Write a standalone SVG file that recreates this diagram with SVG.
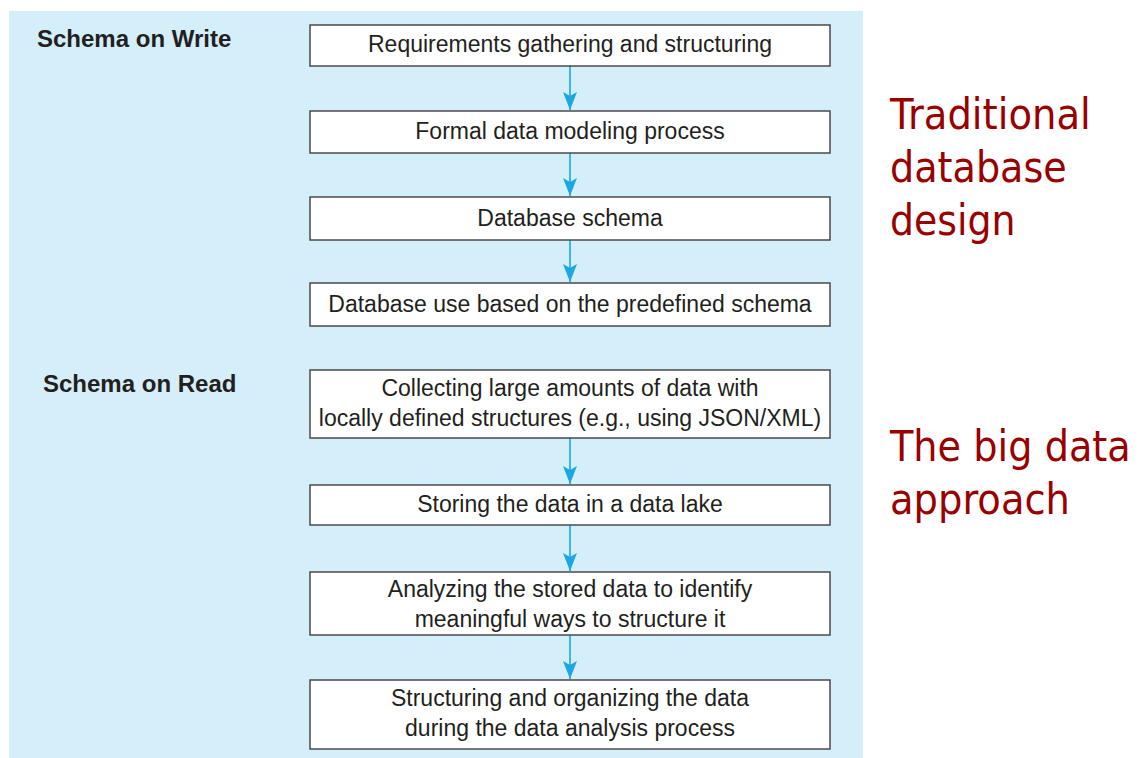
<svg xmlns="http://www.w3.org/2000/svg" width="1145" height="758" viewBox="0 0 1145 758">
<defs>
<style>
.box{fill:#fff;stroke:#4a4a4a;stroke-width:1.5}
.t{font-family:"Liberation Sans",Arial,sans-serif;font-size:23px;fill:#231f20;text-anchor:middle}
.h{font-family:"Liberation Sans",Arial,sans-serif;font-size:24px;font-weight:bold;fill:#231f20}
.r{font-family:"DejaVu Sans",Verdana,sans-serif;font-size:43px;fill:#990000}
.c{stroke:#1aa7e4;stroke-width:1.6;fill:none}
</style>
<marker id="ah" markerWidth="18" markerHeight="14" refX="18" refY="7" orient="auto" markerUnits="userSpaceOnUse" viewBox="0 0 18 14">
<path d="M0,0 L4,7 L0,14 L18,7 Z" fill="#1aa7e4"/>
</marker>
</defs>
<rect x="9" y="11" width="854" height="747" fill="#d4eefa"/>
<text class="h" x="37" y="47">Schema on Write</text>
<text class="h" x="43" y="392">Schema on Read</text>
<g id="connectors">
<path class="c" d="M570,66 V110" marker-end="url(#ah)"/>
<path class="c" d="M570,153 V196" marker-end="url(#ah)"/>
<path class="c" d="M570,240 V282" marker-end="url(#ah)"/>
<path class="c" d="M570,438 V484" marker-end="url(#ah)"/>
<path class="c" d="M570,525 V571" marker-end="url(#ah)"/>
<path class="c" d="M570,635 V679" marker-end="url(#ah)"/>
</g>
<g id="n1"><rect class="box" x="310" y="25" width="520" height="41"/><text class="t" x="570" y="52">Requirements gathering and structuring</text></g>
<g id="n2"><rect class="box" x="310" y="111" width="520" height="42"/><text class="t" x="570" y="139">Formal data modeling process</text></g>
<g id="n3"><rect class="box" x="310" y="197" width="520" height="43"/><text class="t" x="570" y="226">Database schema</text></g>
<g id="n4"><rect class="box" x="310" y="283" width="520" height="43"/><text class="t" x="570" y="312">Database use based on the predefined schema</text></g>
<g id="n5"><rect class="box" x="310" y="370" width="520" height="68"/><text class="t" x="570" y="396">Collecting large amounts of data with</text><text class="t" x="570" y="426">locally defined structures (e.g., using JSON/XML)</text></g>
<g id="n6"><rect class="box" x="310" y="485" width="520" height="40"/><text class="t" x="570" y="512">Storing the data in a data lake</text></g>
<g id="n7"><rect class="box" x="310" y="572" width="520" height="63"/><text class="t" x="570" y="597">Analyzing the stored data to identify</text><text class="t" x="570" y="627">meaningful ways to structure it</text></g>
<g id="n8"><rect class="box" x="310" y="680" width="520" height="69"/><text class="t" x="570" y="706">Structuring and organizing the data</text><text class="t" x="570" y="736">during the data analysis process</text></g>
<g id="labels" transform="translate(890,0) scale(0.8,1)">
<text class="r" x="0" y="129" textLength="251" lengthAdjust="spacingAndGlyphs">Traditional</text>
<text class="r" x="0" y="182" textLength="221" lengthAdjust="spacingAndGlyphs">database</text>
<text class="r" x="0" y="235" textLength="157" lengthAdjust="spacingAndGlyphs">design</text>
<text class="r" x="0" y="461" textLength="301" lengthAdjust="spacingAndGlyphs">The big data</text>
<text class="r" x="0" y="514" textLength="225" lengthAdjust="spacingAndGlyphs">approach</text>
</g>
</svg>
